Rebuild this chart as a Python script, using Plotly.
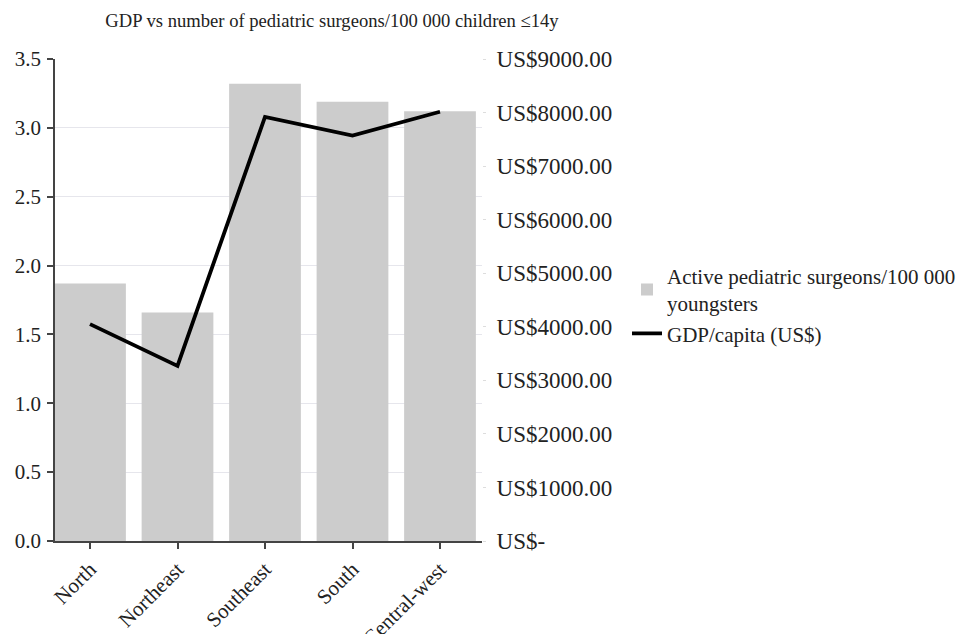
import plotly.graph_objects as go

regions = ["North", "Northeast", "Southeast", "South", "Central-west"]
surgeons = [1.87, 1.66, 3.32, 3.19, 3.12]
gdp = [4050, 3270, 7920, 7570, 8015]

left_ticks = [0.0, 0.5, 1.0, 1.5, 2.0, 2.5, 3.0, 3.5]
left_ticktext = ["0.0", "0.5", "1.0", "1.5", "2.0", "2.5", "3.0", "3.5"]
right_ticks = [0, 1000, 2000, 3000, 4000, 5000, 6000, 7000, 8000, 9000]
right_ticktext = ["US$-"] + ["US$%d.00" % v for v in right_ticks[1:]]

FONT = "Liberation Serif, Times New Roman, serif"

# the page body adds an 8px offset; the figure is sized to fit the 969x634 window
W, H = 961, 626

fig = go.Figure()
fig.add_trace(go.Bar(
    x=regions, y=surgeons, name="Active pediatric surgeons/100 000<br>youngsters",
    marker=dict(color="#cccccc", line=dict(width=0)), width=0.82, yaxis="y",
))
fig.add_trace(go.Scatter(
    x=regions, y=gdp, name="GDP/capita (US$)", mode="lines",
    line=dict(color="#000000", width=3.8), yaxis="y2",
))

fig.update_layout(
    width=W, height=H,
    margin=dict(l=47, r=487, t=51, b=93),
    paper_bgcolor="white", plot_bgcolor="white",
    font=dict(family=FONT, size=20, color="#222222"),
    title=dict(text="GDP vs number of pediatric surgeons/100 000 children \u226414y",
               x=324 / W, xanchor="center", y=1 - 12 / H, yanchor="middle",
               xref="container", yref="container",
               font=dict(family=FONT, size=18.6, color="#222222")),
    xaxis=dict(
        type="category", range=[-0.4, 4.48], showgrid=False, automargin=False,
        showline=True, linecolor="#444444", linewidth=1.5,
        ticks="outside", ticklen=6, tickcolor="#444444", tickwidth=1.5,
        tickangle=-45, tickfont=dict(family=FONT, size=21, color="#222222"),
    ),
    yaxis=dict(
        range=[0, 3.5], tickvals=left_ticks, ticktext=left_ticktext,
        showgrid=True, gridcolor="#e6e6ec", gridwidth=1, automargin=False,
        showline=True, linecolor="#444444", linewidth=1.5,
        ticks="outside", ticklen=6, tickcolor="#444444", tickwidth=1.5,
        zeroline=False, ticklabelstandoff=2,
        tickfont=dict(family=FONT, size=21, color="#222222"),
    ),
    yaxis2=dict(
        range=[0, 9000], tickvals=right_ticks, ticktext=right_ticktext,
        overlaying="y", side="right", showgrid=False, showline=False,
        zeroline=False, ticks="outside", ticklen=3, tickcolor="#dddddd",
        ticklabelstandoff=6, automargin=False,
        tickfont=dict(family=FONT, size=23, color="#222222"),
    ),
    legend=dict(
        xref="container", yref="container",
        x=619 / W, xanchor="left", y=0.526, yanchor="middle",
        font=dict(family=FONT, size=21, color="#222222"),
        bgcolor="rgba(0,0,0,0)", tracegroupgap=0, itemwidth=30,
    ),
    showlegend=True,
)

fig.write_html("out.html")
